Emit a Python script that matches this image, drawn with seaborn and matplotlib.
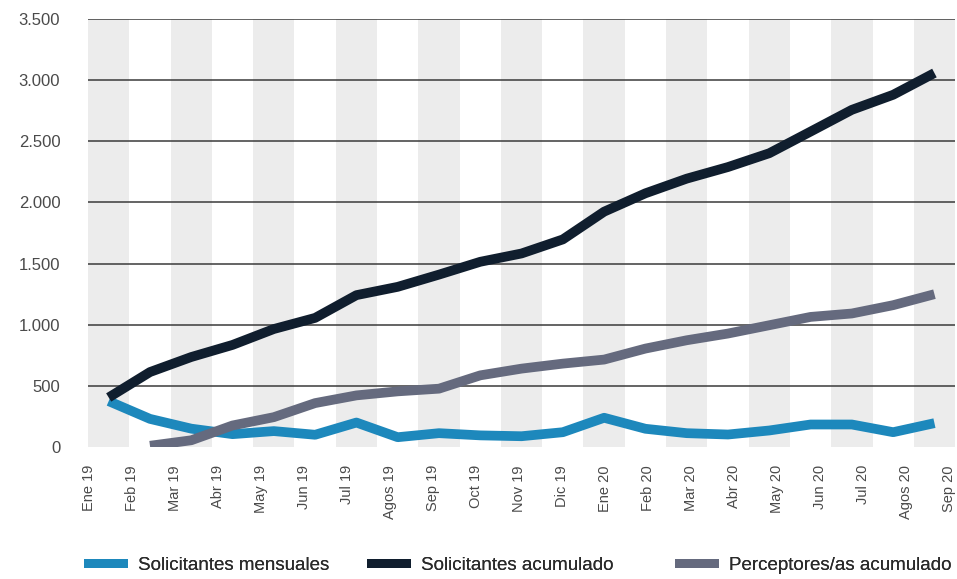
import matplotlib
matplotlib.use("Agg")
import matplotlib.pyplot as plt
from matplotlib.patches import Patch
import seaborn as sns
import pandas as pd
import numpy as np

months = ["Ene 19", "Feb 19", "Mar 19", "Abr 19", "May 19", "Jun 19", "Jul 19",
          "Agos 19", "Sep 19", "Oct 19", "Nov 19", "Dic 19", "Ene 20", "Feb 20",
          "Mar 20", "Abr 20", "May 20", "Jun 20", "Jul 20", "Agos 20", "Sep 20"]

solicitantes_mensuales = [375, 230, 150, 105, 130, 100, 200, 80, 113, 95, 88, 121,
                          239, 149, 113, 102, 135, 184, 184, 121, 195]
solicitantes_acumulado = [405, 613, 736, 835, 965, 1056, 1242, 1310, 1410, 1515, 1583,
                          1698, 1925, 2075, 2195, 2290, 2403, 2580, 2758, 2881, 3059]
perceptores_acumulado = [np.nan, 10, 55, 176, 244, 359, 422, 455, 477, 586, 641, 682,
                         715, 805, 873, 928, 996, 1064, 1092, 1160, 1250]

series_names = ["Solicitantes mensuales", "Solicitantes acumulado", "Perceptores/as acumulado"]
colors = ["#1d88bc", "#101e2e", "#656a7e"]

df = pd.DataFrame({
    "idx": list(range(len(months))) * 3,
    "valor": solicitantes_mensuales + solicitantes_acumulado + perceptores_acumulado,
    "serie": [s for s in series_names for _ in months],
})

sns.set_style("white")
plt.rcParams["font.family"] = ["Liberation Sans", "DejaVu Sans"]

fig = plt.figure(figsize=(9.57, 5.79), dpi=100)
ax = fig.add_axes([0.092, 0.228, 0.906, 0.739])

# alternating column bands
for i in range(0, len(months), 2):
    ax.axvspan(i - 0.5, i + 0.5, color="#ececec", lw=0, zorder=0)

# horizontal grid lines
for v in range(500, 3501, 500):
    ax.axhline(v, color="#3a3a3a", lw=1.1, zorder=1)

sns.lineplot(data=df, x="idx", y="valor", hue="serie", hue_order=series_names,
             palette=colors, linewidth=7, legend=False, ax=ax, zorder=3,
             solid_capstyle="butt")
for line in ax.get_lines():
    if matplotlib.colors.to_hex(line.get_color()) == "#101e2e":
        line.set_zorder(4)

ax.set_xlim(-0.5, len(months) - 0.5)
ax.set_ylim(0, 3500)
ax.set_yticks(range(0, 3501, 500))
ax.set_yticklabels([f"{v:,}".replace(",", ".") for v in range(0, 3501, 500)],
                   fontsize=12, color="#4a4a4a")
ax.set_xticks(np.linspace(-0.48, len(months) - 0.65, len(months)))
ax.set_xticklabels(months, rotation=90, fontsize=10.5, color="#4a4a4a")
ax.tick_params(axis="both", length=0)
ax.tick_params(axis="y", pad=20)
ax.tick_params(axis="x", pad=13)
ax.set_xlabel("")
ax.set_ylabel("")
for s in ax.spines.values():
    s.set_visible(False)

# legend entries placed individually, like the reference spacing
legend_x = [84, 367, 675]
for name, c, px in zip(series_names, colors, legend_x):
    leg = fig.legend([Patch(facecolor=c, edgecolor="none")], [name],
                     loc="center left", bbox_to_anchor=(px / 957, 1 - 566 / 579),
                     frameon=False, fontsize=13.5, handlelength=2.34, handleheight=0.37,
                     handletextpad=0.53, borderpad=0, borderaxespad=0,
                     labelcolor="#2a2a2a")
    fig.add_artist(leg)

fig.savefig("out.png", dpi=100)
